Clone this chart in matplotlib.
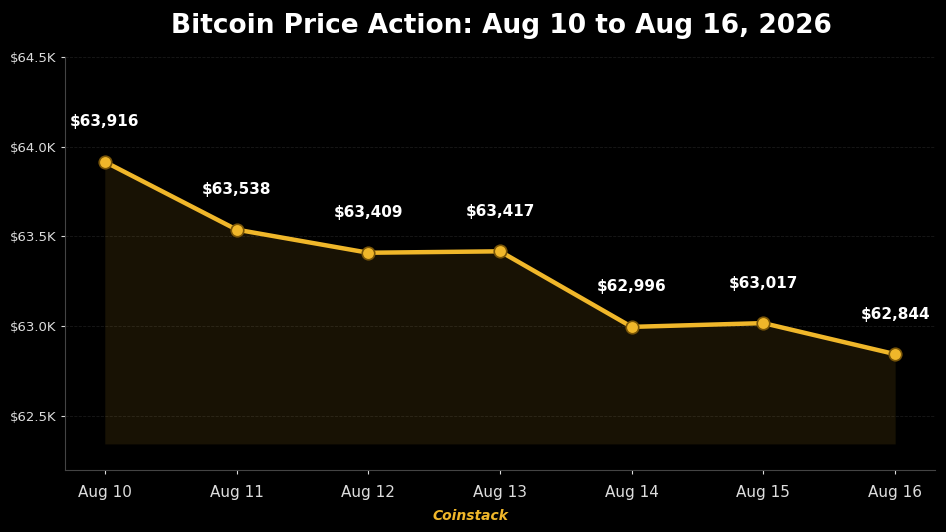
import matplotlib
matplotlib.use("Agg")
import matplotlib.pyplot as plt
from matplotlib.ticker import FuncFormatter

# data
dates = ["Aug 10", "Aug 11", "Aug 12", "Aug 13", "Aug 14", "Aug 15", "Aug 16"]
prices = [63916, 63538, 63409, 63417, 62996, 63017, 62844]
yticks = [62500, 63000, 63500, 64000, 64500]

gold = "#f0b72a"
bg = "#000000"

fig = plt.figure(figsize=(9.46, 5.32), dpi=100, facecolor=bg)
ax = fig.add_axes([0.069, 0.117, 0.919, 0.776], facecolor=bg)

x = list(range(len(dates)))
base = min(prices) - 500
ax.fill_between(x, prices, base, color=gold, alpha=0.1, linewidth=0)
ax.plot(x, prices, color=gold, linewidth=3.2, marker="o", markersize=9,
        markerfacecolor=gold, markeredgecolor="#7a5608", markeredgewidth=1.2, zorder=3)

for xi, p in zip(x, prices):
    ax.annotate(f"${p:,}", (xi, p), textcoords="offset pixels", xytext=(0, 40),
                ha="center", va="center", color="white", fontsize=11, fontweight="bold")

ax.set_xlim(-0.3, 6.3)
ax.set_ylim(62200, 64500)
ax.set_xticks(x)
ax.set_xticklabels(dates)
ax.set_yticks(yticks)
ax.yaxis.set_major_formatter(FuncFormatter(lambda v, _: f"${v/1000:.1f}K"))

ax.tick_params(axis="x", colors="#dddddd", labelsize=11, length=3, pad=8)
ax.tick_params(axis="y", colors="#dddddd", labelsize=9.5, length=3)
ax.grid(axis="y", color="#333333", linestyle="--", linewidth=0.6, alpha=0.5)
ax.set_axisbelow(True)
for s in ["top", "right"]:
    ax.spines[s].set_visible(False)
for s in ["left", "bottom"]:
    ax.spines[s].set_color("#444444")

fig.text(0.53, 0.951, "Bitcoin Price Action: Aug 10 to Aug 16, 2026", ha="center", va="center",
         color="white", fontsize=19, fontweight="bold")
fig.text(0.497, 0.031, "Coinstack", ha="center", va="center", color=gold,
         fontsize=10, fontweight="bold", style="italic")

fig.savefig("out.png", dpi=100, facecolor=bg)
